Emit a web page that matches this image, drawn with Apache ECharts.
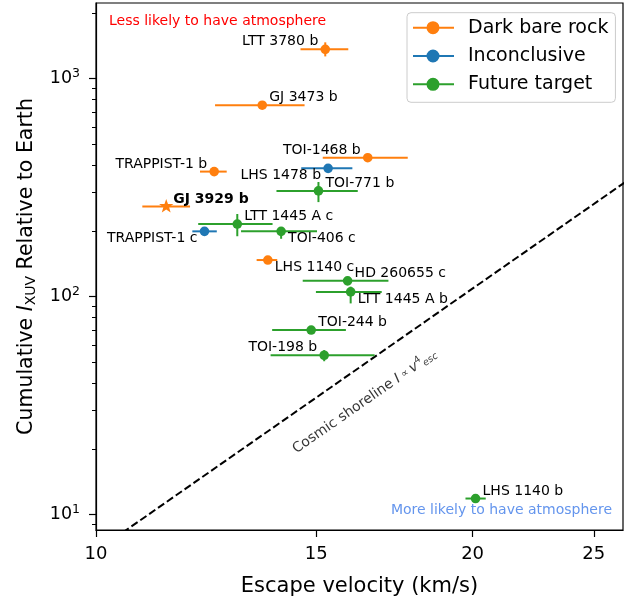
<!DOCTYPE html>
<html>
<head>
<meta charset="utf-8">
<script src="https://cdn.jsdelivr.net/npm/echarts@6/dist/echarts.min.js"></script>
<style>
  html, body { margin: 0; padding: 0; background: #fff; }
  #chart { width: 633px; height: 598px; }
</style>
</head>
<body>
<div id="chart"></div>
<script>
// planets, grouped: 0 = dark bare rock, 1 = inconclusive, 2 = future target
const planetNames = ['LTT 3780 b', 'GJ 3473 b', 'TOI-1468 b', 'TRAPPIST-1 b', 'GJ 3929 b', 'LHS 1140 c',
  'LHS 1478 b', 'TRAPPIST-1 c',
  'TOI-771 b', 'LTT 1445 A c', 'TOI-406 c', 'HD 260655 c', 'LTT 1445 A b', 'TOI-244 b', 'TOI-198 b', 'LHS 1140 b'];
const planetGroup = [0, 0, 0, 0, 0, 0, 1, 1, 2, 2, 2, 2, 2, 2, 2, 2];
// escape velocity (km/s) and its error range
const vEsc   = [15.25, 13.58, 16.49, 12.43, 11.38, 13.72, 15.33, 12.21, 15.06, 12.97, 14.06, 15.89, 15.98, 14.86, 15.22, 20.11];
const vEscLo = [14.57, 12.45, 15.18, 12.11, 10.89, 13.44, 14.59, 11.94, 13.94, 12.07, 13.06, 14.63, 14.99, 13.83, 13.79, 19.74];
const vEscHi = [15.91, 14.68, 17.75, 12.72, 11.89, 13.96, 16.03, 12.49, 16.19, 13.84, 15.02, 17.13, 16.92, 15.84, 16.70, 20.49];
// cumulative XUV relative to Earth and its error range (null = no bar drawn)
const iXuv   = [1360, 754, 433, 374, 259, 147, 387, 199, 305, 215, 199, 118, 105, 70.2, 53.8, 11.85];
const iXuvLo = [1262, null, null, null, null, null, null, null, 271, 189, 184, null, 93, null, 50.5, null];
const iXuvHi = [1464, null, null, null, null, null, null, null, 335, 239, 208, null, 111, null, 56.8, null];

const groupNames = ['Dark bare rock', 'Inconclusive', 'Future target'];
const groupColors = ['#ff7f0e', '#1f77b4', '#2ca02c'];

const xTicks = [10, 15, 20, 25];
const yTicks = [10, 100, 1000];
const yMinorTicks = [9, 20, 30, 40, 50, 60, 70, 80, 90, 200, 300, 400, 500, 600, 700, 800, 900, 2000];

// cosmic shoreline  I = k * v^4
const shorelineK = 6.8e-4;
const shorelineV = [10, 27];

// text placement next to each marker: [text align, above/below]
const labelPlacement = {
  'LTT 3780 b': ['right', 'up'], 'GJ 3473 b': ['left', 'up'], 'TOI-1468 b': ['right', 'up'],
  'TRAPPIST-1 b': ['right', 'up'], 'GJ 3929 b': ['left', 'up'], 'LHS 1140 c': ['left', 'down'],
  'LHS 1478 b': ['right', 'down'], 'TRAPPIST-1 c': ['right', 'down'], 'TOI-771 b': ['left', 'up'],
  'LTT 1445 A c': ['left', 'up'], 'TOI-406 c': ['left', 'down'], 'HD 260655 c': ['left', 'up'],
  'LTT 1445 A b': ['left', 'down'], 'TOI-244 b': ['left', 'up'], 'TOI-198 b': ['right', 'up'],
  'LHS 1140 b': ['left', 'up']
};
const starPlanet = 'GJ 3929 b';
const FONT = 'DejaVu Sans';

function starPoints(cx, cy, R) {
  const pts = [];
  for (let k = 0; k < 10; k++) {
    const r = k % 2 === 0 ? R : R * 0.4;
    const a = -Math.PI / 2 + k * Math.PI / 5;
    pts.push([cx + r * Math.cos(a), cy + r * Math.sin(a)]);
  }
  return pts;
}

function renderPlanet(params, api) {
  const i = api.value(2);
  const color = groupColors[planetGroup[i]];
  const c = api.coord([vEsc[i], iXuv[i]]);
  const lo = api.coord([vEscLo[i], iXuv[i]]);
  const hi = api.coord([vEscHi[i], iXuv[i]]);
  const kids = [{
    type: 'line',
    shape: { x1: lo[0], y1: c[1], x2: hi[0], y2: c[1] },
    style: { stroke: color, lineWidth: 2 }
  }];
  if (iXuvLo[i] != null) {
    const a = api.coord([vEsc[i], iXuvLo[i]]);
    const b = api.coord([vEsc[i], iXuvHi[i]]);
    kids.push({
      type: 'line',
      shape: { x1: c[0], y1: a[1], x2: c[0], y2: b[1] },
      style: { stroke: color, lineWidth: 2 }
    });
  }
  if (planetNames[i] === starPlanet) {
    kids.push({ type: 'polygon', shape: { points: starPoints(c[0], c[1], 7.5) }, style: { fill: color } });
  } else {
    kids.push({ type: 'circle', shape: { cx: c[0], cy: c[1], r: 4.8 }, style: { fill: color } });
  }
  const side = labelPlacement[planetNames[i]];
  kids.push({
    type: 'text',
    x: c[0] + (side[0] === 'left' ? 7 : -7),
    y: c[1] + (side[1] === 'up' ? -7.5 : 7),
    style: {
      text: planetNames[i],
      fill: '#000',
      fontSize: 14,
      fontFamily: FONT,
      fontWeight: planetNames[i] === starPlanet ? 'bold' : 'normal',
      align: side[0],
      verticalAlign: 'middle'
    }
  });
  return { type: 'group', children: kids };
}

// legend handle: line with a dot
const legendIcon = 'path://M0,5.5 L41,5.5 L41,7.5 L0,7.5 Z M26.5,6.5 A6.5,6.5 0 1,1 13.5,6.5 A6.5,6.5 0 1,1 26.5,6.5 Z';

let myChart = echarts.init(document.getElementById('chart'));

let planetSeries = groupNames.map(function (name, g) {
  return {
    type: 'custom',
    name: name,
    renderItem: renderPlanet,
    itemStyle: { color: groupColors[g] },
    encode: { x: 0, y: 1 },
    data: planetNames.map((_, i) => i).filter(i => planetGroup[i] === g).map(i => [vEsc[i], iXuv[i], i]),
    z: 3
  };
});

let option = {
  animation: false,
  grid: {
    left: 96, right: 10, top: 3, bottom: 68,
    outerBoundsMode: 'none',
    show: true, borderColor: '#000', borderWidth: 1.2, backgroundColor: '#fff'
  },
  legend: {
    left: 407,
    top: 12.7,
    orient: 'vertical',
    itemWidth: 41,
    itemHeight: 13,
    itemGap: 8.3,
    padding: [5, 7, 8, 6],
    backgroundColor: '#fff',
    borderColor: '#cccccc',
    borderWidth: 1,
    borderRadius: 4,
    textStyle: { fontFamily: FONT, fontSize: 19, color: '#000', lineHeight: 20, padding: [0, 0, 0, 9] },
    data: groupNames.map(n => ({ name: n, icon: legendIcon }))
  },
  xAxis: {
    type: 'log',
    logBase: 10,
    min: 10,
    max: 26.38,
    name: 'Escape velocity (km/s)',
    nameLocation: 'middle',
    nameGap: 46,
    nameTextStyle: { fontFamily: FONT, fontSize: 21, color: '#000' },
    axisLine: { show: true, lineStyle: { color: '#000', width: 1.2 } },
    axisTick: { show: true, customValues: xTicks, length: 7, lineStyle: { color: '#000', width: 1.2 } },
    minorTick: { show: false },
    axisLabel: { customValues: xTicks, margin: 15, fontFamily: FONT, fontSize: 18, color: '#000', formatter: v => String(Math.round(v)) },
    splitLine: { show: false }
  },
  yAxis: [{
    type: 'log',
    logBase: 10,
    min: 8.5,
    max: 2218,
    name: 'Cumulative {i|I}{sub|XUV} Relative to Earth',
    nameLocation: 'middle',
    nameGap: 58,
    nameTextStyle: {
      fontFamily: FONT, fontSize: 20.5, color: '#000',
      rich: {
        i: { fontFamily: FONT, fontSize: 20.5, fontStyle: 'italic', color: '#000' },
        sub: { fontFamily: FONT, fontSize: 14, color: '#000', padding: [9, 0, 0, 0] }
      }
    },
    axisLine: { show: true, lineStyle: { color: '#000', width: 1.2 } },
    axisTick: { show: true, customValues: yTicks, length: 7, lineStyle: { color: '#000', width: 1.2 } },
    axisLabel: {
      customValues: yTicks,
      margin: 16,
      color: '#000',
      formatter: v => '{b|10}{s|' + Math.round(Math.log10(v)) + '}',
      rich: {
        b: { fontFamily: FONT, fontSize: 17.5, color: '#000' },
        s: { fontFamily: FONT, fontSize: 12.5, color: '#000', padding: [0, 0, 9, 0] }
      }
    },
    splitLine: { show: false }
  }, {
    // minor ticks only
    type: 'log',
    logBase: 10,
    min: 8.5,
    max: 2218,
    position: 'left',
    axisLine: { show: false },
    axisTick: { show: true, customValues: yMinorTicks, length: 4, lineStyle: { color: '#000', width: 1 } },
    axisLabel: { show: false },
    splitLine: { show: false }
  }],
  graphic: [{
    type: 'text', left: 109, top: 14.5, z: 10,
    style: { text: 'Less likely to have atmosphere', fill: '#ff0000', fontFamily: FONT, fontSize: 14 }
  }, {
    type: 'text', right: 21, top: 503.5, z: 10,
    style: { text: 'More likely to have atmosphere', fill: '#6495ed', fontFamily: FONT, fontSize: 14 }
  }],
  series: [{
    type: 'line',
    name: 'shoreline',
    data: shorelineV.map(v => [v, shorelineK * Math.pow(v, 4)]),
    symbol: 'none',
    clip: true,
    silent: true,
    lineStyle: { color: '#000', width: 2, type: [7.5, 3.3] },
    z: 2
  }, {
    type: 'scatter',
    name: 'shoreline label',
    data: [[16.4, 33]],
    symbolSize: 1,
    silent: true,
    itemStyle: { color: 'transparent' },
    label: {
      show: true,
      position: 'inside',
      rotate: 34.8,
      align: 'center',
      verticalAlign: 'middle',
      color: '#000',
      fontFamily: FONT,
      fontSize: 14,
      formatter: 'Cosmic shoreline {i|I}{p| ∝ }{i|v}{sup|4}{sub|esc}',
      rich: {
        i: { fontFamily: FONT, fontSize: 14, fontStyle: 'italic', color: '#000' },
        p: { fontFamily: FONT, fontSize: 10, color: '#000' },
        sup: { fontFamily: FONT, fontSize: 9.5, color: '#000', padding: [0, 0, 8, 0] },
        sub: { fontFamily: FONT, fontSize: 9.5, fontStyle: 'italic', color: '#000', padding: [6, 0, 0, 0] }
      }
    }
  }].concat(planetSeries)
};

myChart.setOption(option);
</script>
</body>
</html>
